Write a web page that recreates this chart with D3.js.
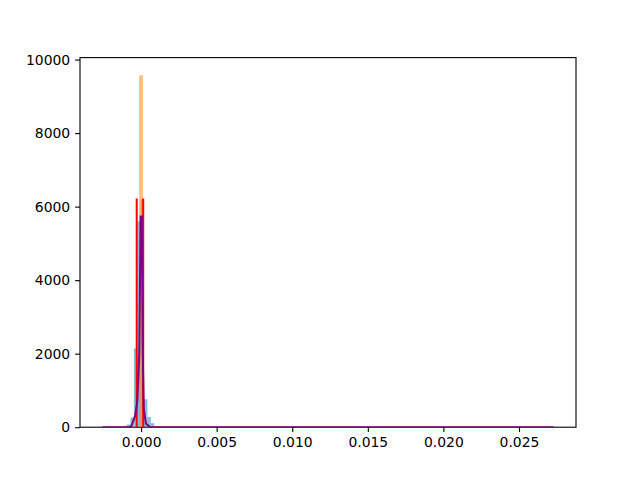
<!DOCTYPE html>
<html>
<head>
<meta charset="utf-8">
<script src="https://cdn.jsdelivr.net/npm/d3@7"></script>
<style>
  body { margin: 0; background: #fff; }
  svg text { font-family: "DejaVu Sans", sans-serif; font-size: 13.9px; fill: #000; }
  .axis path, .axis line { stroke: #000; stroke-width: 1.1px; }
</style>
</head>
<body>
<div id="chart"></div>
<script>
// blue histogram: left edges and counts (bin width below)
var blueWidth = 0.000224;
var blueLeft   = [-0.00115, -0.000926, -0.000702, -0.000478, -0.000254, -0.00003, 0.000194, 0.000418, 0.000642, 0.000866];
var blueCounts = [40, 75, 265, 2140, 5600, 6200, 760, 280, 110, 30];

// orange histogram (one visible bin)
var orangeLeft = [-0.00013];
var orangeWidth = 0.00026;
var orangeCounts = [9575];

// red vertical strokes
var redX = [-0.00029, 0.00014];
var redY = [6220, 6220];

// purple curve
var purpleX = [-0.00255, -0.00078, -0.00066, -0.0004, -0.00025, -0.00012, -0.00003, 0.00005, 0.00011, 0.00018, 0.00032, 0.0006, 0.02728];
var purpleY = [0, 0, 20, 300, 700, 2000, 5730, 5730, 2000, 500, 100, 0, 0];

var xTicks = [0, 0.005, 0.010, 0.015, 0.020, 0.025];
var yTicks = [0, 2000, 4000, 6000, 8000, 10000];

var W = 640, H = 480;
var margin = {top: 57.6, right: 64, bottom: 52.8, left: 80};
var width = W - margin.left - margin.right,
    height = H - margin.top - margin.bottom;

var xmin = d3.min(purpleX), xmax = d3.max(purpleX);
var xpad = (xmax - xmin) * 0.05;
var x = d3.scaleLinear().domain([xmin - xpad, xmax + xpad]).range([0, width]);
var y = d3.scaleLinear().domain([0, d3.max(orangeCounts) * 1.05]).range([height, 0]);

var svg = d3.select("#chart").append("svg")
    .attr("width", W)
    .attr("height", H)
  .append("g")
    .attr("transform", "translate(" + margin.left + "," + margin.top + ")");

svg.append("defs").append("clipPath").attr("id", "clip")
  .append("rect").attr("width", width).attr("height", height);

// frame
svg.append("rect")
    .attr("width", width)
    .attr("height", height)
    .attr("fill", "none")
    .attr("stroke", "#000")
    .attr("stroke-width", 1.1);

var plot = svg.append("g").attr("clip-path", "url(#clip)");

plot.selectAll(".blue").data(blueLeft).enter().append("rect")
    .attr("class", "blue")
    .attr("x", function(d) { return x(d); })
    .attr("width", function(d) { return x(d + blueWidth) - x(d); })
    .attr("y", function(d, i) { return y(blueCounts[i]); })
    .attr("height", function(d, i) { return y(0) - y(blueCounts[i]); })
    .attr("fill", "#1f77b4")
    .attr("fill-opacity", 0.5);

plot.selectAll(".orange").data(orangeLeft).enter().append("rect")
    .attr("class", "orange")
    .attr("x", function(d) { return x(d); })
    .attr("width", function(d) { return x(d + orangeWidth) - x(d); })
    .attr("y", function(d, i) { return y(orangeCounts[i]); })
    .attr("height", function(d, i) { return y(0) - y(orangeCounts[i]); })
    .attr("fill", "#ff7f0e")
    .attr("fill-opacity", 0.5);

plot.selectAll(".red").data(redX).enter().append("line")
    .attr("class", "red")
    .attr("x1", function(d) { return x(d); })
    .attr("x2", function(d) { return x(d); })
    .attr("y1", y(0))
    .attr("y2", function(d, i) { return y(redY[i]); })
    .attr("stroke", "red")
    .attr("stroke-width", 2);

var line = d3.line()
    .x(function(d) { return x(d[0]); })
    .y(function(d) { return y(d[1]); });

plot.append("path")
    .datum(d3.zip(purpleX, purpleY))
    .attr("d", line)
    .attr("fill", "none")
    .attr("stroke", "purple")
    .attr("stroke-width", 2);

var xaxis = d3.axisBottom(x).tickValues(xTicks).tickFormat(d3.format(".3f")).tickSizeOuter(0).tickSize(4.9).tickPadding(4.9);
var yaxis = d3.axisLeft(y).tickValues(yTicks).tickFormat(d3.format("d")).tickSizeOuter(0).tickSize(4.9).tickPadding(4.9);

svg.append("g")
    .attr("class", "axis xaxis")
    .attr("transform", "translate(0," + height + ")")
    .call(xaxis)
    .call(function(g) { g.select(".domain").remove(); });

svg.append("g")
    .attr("class", "axis yaxis")
    .call(yaxis)
    .call(function(g) { g.select(".domain").remove(); });
</script>
</body>
</html>
